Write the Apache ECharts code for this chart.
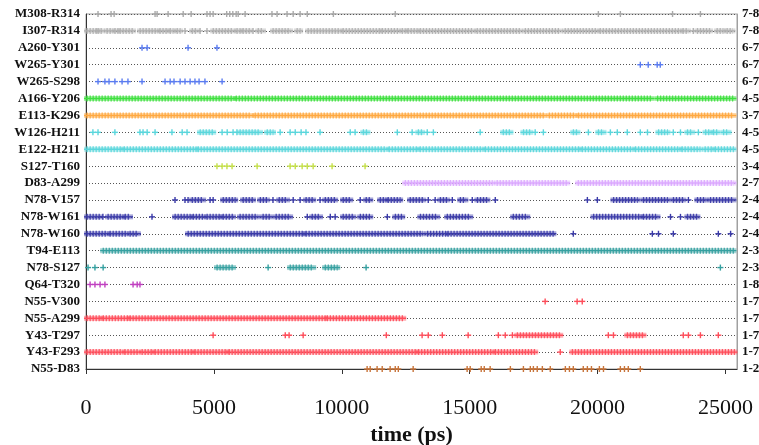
<!DOCTYPE html>
<html>
<head>
<meta charset="utf-8">
<script src="https://cdn.jsdelivr.net/npm/echarts@6/dist/echarts.min.js"></script>
<style>
html,body{margin:0;padding:0;background:#fff;}
#chart{width:759px;height:445px;}
</style>
</head>
<body>
<div id="chart"></div>
<script>
// Row labels (top to bottom)
const categories = ["M308-R314","I307-R314","A260-Y301","W265-Y301","W265-S298","A166-Y206","E113-K296","W126-H211","E122-H211","S127-T160","D83-A299","N78-V157","N78-W161","N78-W160","T94-E113","N78-S127","Q64-T320","N55-V300","N55-A299","Y43-T297","Y43-F293","N55-D83"];
const pairLabels = ["7-8","7-8","6-7","6-7","6-7","4-5","3-7","4-5","4-5","3-4","2-7","2-4","2-4","2-4","2-3","2-3","1-8","1-7","1-7","1-7","1-7","1-2"];
const xTicks = [0,5000,10000,15000,20000,25000];
const rowColors = ["#a9a9a9","#b0b0b0","#5b7cf0","#5b7cf0","#5b7cf0","#3fe03f","#ffa940","#5ad6dc","#5ad6dc","#c5e04a","#dcaaff","#3a3aa8","#3a3aa8","#3a3aa8","#35a0a0","#35a0a0","#c040c0","#ff4d5a","#ff4d5a","#ff4d5a","#ff4d5a","#c8743a"];

// H-bond presence (time in ps): single number = one frame, [a,b] = continuous run
const ev_M308_R314 = [470,980,1100,2700,2780,3210,3800,4110,4730,4850,4970,5500,5620,5740,5870,5950,6220,7270,7470,7860,8100,8370,8650,9670,12090,20030,20890,22930,24020];
const ev_I307_R314 = [[40,430],[470,630],[820,1020],[1130,1250],[1330,1840],[2110,2780],[2890,3170],[3290,3400],[3560,3680],3870,[4150,4340],4460,4730,[4970,5750],[5900,6020],[6140,6410],6530,[6730,6920],[7310,7980],[8250,8370],[8680,9930],[10050,11500],[11580,12200],[12360,12470],[12590,12940],[13070,15130],[15290,16970],[17170,18530],[18730,19980],[20100,23230],[23340,23540],23740,[23900,24400],[24670,24900],[25060,25270]];
const ev_A260_Y301 = [2190,2390,3990,5120];
const ev_W265_Y301 = [21670,21980,22330,22450];
const ev_W265_S298 = [470,740,900,1130,1410,1640,2190,3090,3290,3440,3680,3870,4070,4260,4420,4650,5320];
const ev_A166_Y206 = [[40,5750],[5870,22100],[22340,25310]];
const ev_E113_K296 = [[40,6450],[6610,17900],[18110,19100],[19250,25310]];
const ev_W126_H211 = [270,470,1130,2110,2230,2390,2700,3360,3760,3950,[4460,4970],5320,5520,5750,5900,[6020,6800],[7080,7310],7590,7980,8180,8410,8600,9150,10330,10520,[10840,11000],12170,12750,[12990,13140],13340,13580,15410,[16310,16590],[17100,17370],17560,17880,[19050,19210],19640,[20030,20230],20500,20770,21160,21670,21950,[22380,22730],22960,23240,[23510,23700],23940,[24220,24410],[24530,24680],[24920,25120]];
const ev_E122_H211 = [[40,1410],[1490,4300],[4380,11730],[11850,12940],[13060,15490],[15610,19280],[19400,21360],[21480,23200],[23300,24000],[24200,24470],[24600,25310]];
const ev_S127_T160 = [5120,5320,5510,5710,6690,7980,8180,8450,8650,8880,9620,10910];
const ev_D83_A299 = [[12480,15880],[16070,18810],[19240,25310]];
const ev_N78_V157 = [3480,3870,3990,[4150,4580],4850,4970,[5360,5830],[6140,6530],[6810,7080],7310,[7550,7860],8100,8370,[8600,8880],9150,[9350,9740],[10050,10330],10720,[10950,11110],[11500,11700],[11810,12280],[12670,13180],13380,13650,[13850,14120],14320,[14630,14830],15100,[15300,15690],16000,19600,19990,[20620,21550],[21790,22730],[22960,23350],23550,[23900,24220],[24410,25310]];
const ev_N78_W161 = [[40,550],660,[860,1410],[1530,1720],2580,[3480,4070],[4190,4580],[4730,5240],[5360,5750],[6020,6690],[6920,7200],[7430,7980],8650,[8840,9150],9550,9740,[10050,10450],[10720,11110],11780,[12090,12360],[13070,13730],[14120,15020],[16700,17250],[19840,21670],[21790,22340],22850,23240,[23510,23900]];
const ev_N78_W160 = [[40,820],[940,1560],[1720,2030],[3990,8500],[8600,13150],[13350,14050],[14150,18270],19050,22140,22380,22960,24720,25200];
const ev_T94_E113 = [[670,25310]];
const ev_N78_S127 = [80,350,670,[5120,5750],7120,[7980,8880],[9350,9820],10950,24800];
const ev_Q64_T320 = [160,350,550,740,1840,2000,2110];
const ev_N55_V300 = [17950,19200,19400];
const ev_N55_A299 = [[40,590],[670,1640],[1720,9350],[9430,12400]];
const ev_Y43_T297 = [4970,7790,7940,8490,11740,13140,13380,13930,14940,16120,16390,16670,[16860,18540],20420,20620,[21160,21790],23350,23550,24020,24720];
const ev_Y43_F293 = [[40,1410],[1520,2030],[2190,2580],[2700,4150],[4260,5510],[5590,12900],[13000,15900],[16000,17560],18540,[19010,25350]];
const ev_N55_D83 = [10990,11110,11380,11580,11890,12090,12210,12790,14900,15020,15450,15570,15800,16590,17100,17370,17490,17640,17840,18150,18740,18900,19050,19440,19600,19760,20070,20230,20890,21050,21200,21670];

const rowEvents = [ev_M308_R314,ev_I307_R314,ev_A260_Y301,ev_W265_Y301,ev_W265_S298,ev_A166_Y206,ev_E113_K296,ev_W126_H211,ev_E122_H211,ev_S127_T160,ev_D83_A299,ev_N78_V157,ev_N78_W161,ev_N78_W160,ev_T94_E113,ev_N78_S127,ev_Q64_T320,ev_N55_V300,ev_N55_A299,ev_Y43_T297,ev_Y43_F293,ev_N55_D83];

const data = [];
rowEvents.forEach((arr, r) => {
  arr.forEach(e => {
    if (Array.isArray(e)) data.push([e[0], e[1], r]);
    else data.push([e, e, r]);
  });
});

const chart = echarts.init(document.getElementById('chart'), null, {renderer: 'canvas'});
const serif = "'Liberation Serif','Times New Roman',serif";

function renderItem(params, api) {
  const s = api.value(0), e = api.value(1), r = api.value(2);
  const p1 = api.coord([s, r]);
  const p2 = api.coord([e, r]);
  const color = rowColors[r];
  const h = 3;
  const children = [];
  if (e - s < 1) {
    children.push({type:'line', shape:{x1:p1[0]-h, y1:p1[1], x2:p1[0]+h, y2:p1[1]}, style:{stroke:color, lineWidth:1.4}});
    children.push({type:'line', shape:{x1:p1[0], y1:p1[1]-h, x2:p1[0], y2:p1[1]+h}, style:{stroke:color, lineWidth:1.4}});
  } else {
    children.push({type:'rect', shape:{x:p1[0]-h, y:p1[1]-h+0.5, width:(p2[0]-p1[0])+2*h, height:2*h-1}, style:{fill:color, opacity:0.45}});
    children.push({type:'line', shape:{x1:p1[0]-0.5, y1:p1[1], x2:p2[0]+0.5, y2:p1[1]}, style:{stroke:color, lineWidth:2*h, lineDash:[1.3,1.7], opacity:0.9}});
    children.push({type:'line', shape:{x1:p1[0]-h, y1:p1[1], x2:p2[0]+h, y2:p1[1]}, style:{stroke:color, lineWidth:1.4}});
  }
  return {type:'group', children};
}

const option = {
  animation: false,
  backgroundColor: '#ffffff',
  grid: {left: 86, right: 22, top: 14, bottom: 76, show: true, borderColor: '#a0a0a0', borderWidth: 1, containLabel: false, outerBoundsMode: 'none'},
  xAxis: {
    type: 'value', min: 0, max: 25450, interval: 5000,
    name: 'time (ps)', nameLocation: 'middle', nameGap: 53,
    nameTextStyle: {fontFamily: serif, fontWeight: 'bold', fontSize: 22, color: '#111'},
    axisLine: {show: true, lineStyle: {color: '#333', width: 1}},
    axisTick: {show: true, inside: false, length: 5, lineStyle: {color: '#333'}, customValues: xTicks},
    axisLabel: {fontFamily: serif, fontSize: 22, color: '#111', margin: 28, customValues: xTicks, formatter: v => String(v)},
    splitLine: {show: false}
  },
  yAxis: [
    {
      type: 'category', data: categories, inverse: true, boundaryGap: false,
      axisLine: {show: true, lineStyle: {color: '#333', width: 1}},
      axisTick: {show: false},
      axisLabel: {fontFamily: serif, fontWeight: 'bold', fontSize: 13, color: '#111', margin: 6, interval: 0},
      splitLine: {show: true, lineStyle: {color: '#555', width: 1, type: [1, 2]}}
    },
    {
      type: 'category', data: pairLabels, inverse: true, boundaryGap: false, position: 'right',
      axisLine: {show: true, lineStyle: {color: '#a0a0a0', width: 1}},
      axisTick: {show: false},
      axisLabel: {fontFamily: serif, fontWeight: 'bold', fontSize: 13, color: '#111', margin: 5, interval: 0},
      splitLine: {show: false}
    }
  ],
  series: [{
    type: 'custom',
    renderItem: renderItem,
    encode: {x: [0, 1], y: 2},
    yAxisIndex: 0,
    clip: false,
    data: data,
    z: 5
  }]
};
chart.setOption(option);
</script>
</body>
</html>
